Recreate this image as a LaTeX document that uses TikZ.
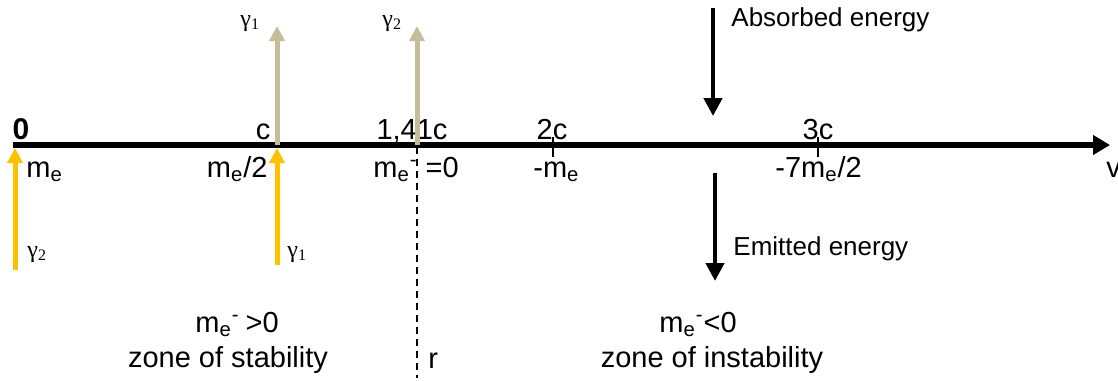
\documentclass[tikz,border=0pt]{standalone}
\usepackage{fontspec}
\setmainfont{Liberation Sans}
\newfontfamily\grk{Liberation Serif}
\usetikzlibrary{arrows.meta}
\definecolor{arena}{HTML}{C4BD97}
\definecolor{ambar}{HTML}{FFC000}

\begin{document}
\begin{tikzpicture}[x=0.5pt, y=-0.5pt, font=\fontsize{14.5}{17}\selectfont,
      lb/.style={inner sep=0pt},
      gm/.style={inner sep=0pt, anchor=base west, font=\fontsize{12}{13}\grk},
      en/.style={inner sep=0pt, anchor=base west, font=\fontsize{13}{15}\selectfont},
      ax/.style={-{Triangle[length=8.5pt, width=9.5pt]}, line width=2.8pt},
      fo/.style={-{Triangle[length=7.5pt, width=7.5pt]}, line width=2.5pt},
      ee/.style={-{Triangle[length=9pt, width=9pt]}, line width=2.2pt},
      tk/.style={line width=0.8pt}]

    \useasboundingbox (0,0) rectangle (1118,380);

    % eje de velocidades
    \coordinate (o) at (13,145);
    \coordinate (vend) at (1110,145);
    \draw[ax] (o) -- (vend);

    \node[lb, anchor=base, font=\fontsize{15}{17}\selectfont\bfseries] (cero) at (21,139) {0};
    \node[lb, anchor=base] (vc) at (263,139) {c};
    \node[lb, anchor=base] (vr) at (412,139) {1,41c};
    \node[lb, anchor=base] (v2c) at (552,139) {2c};
    \node[lb, anchor=base] (v3c) at (818,139) {3c};

    \node[lb, anchor=base west] (m0) at (26,177) {m\textsubscript{e}};
    \node[lb, anchor=base east] (mc) at (268,177) {m\textsubscript{e}/2};
    \node[lb, anchor=base west] (mr) at (373,177) {m\textsubscript{e}\textsuperscript{-}\hspace{4pt}=0};
    \node[lb, anchor=base west] (m2c) at (533,177) {-m\textsubscript{e}};
    \node[lb, anchor=base west] (m3c) at (775,177) {-7m\textsubscript{e}/2};
    \node[lb, anchor=base west] (v) at (1106,177) {v};

    % marcas
    \coordinate (t2a) at (553,137); \coordinate (t2b) at (553,157);
    \coordinate (t3a) at (818,137); \coordinate (t3b) at (818,157);
    \draw[tk] (t2a) -- (t2b);
    \draw[tk] (t3a) -- (t3b);

    % fotones emitidos
    \coordinate (pc) at (277,145); \coordinate (pr) at (417,145);
    \coordinate (g1) at (277,26); \coordinate (g2) at (417,26);
    \draw[fo, arena] (pc) -- (g1);
    \draw[fo, arena] (pr) -- (g2);
    \node[gm] (lg1) at (240,26) {γ\textsubscript{1}};
    \node[gm] (lg2) at (382,26) {γ\textsubscript{2}};

    % fotones absorbidos
    \coordinate (b0) at (15,270); \coordinate (a0) at (15,148);
    \coordinate (bc) at (277,265); \coordinate (ac) at (277,148);
    \draw[fo, ambar] (b0) -- (a0);
    \draw[fo, ambar] (bc) -- (ac);
    \node[gm] (lg2b) at (27,257) {γ\textsubscript{2}};
    \node[gm] (lg1b) at (287,257) {γ\textsubscript{1}};

    % limite r
    \coordinate (rtop) at (417,147); \coordinate (rbot) at (417,378);
    \draw[dashed, line width=0.8pt, dash pattern=on 3.5pt off 2.5pt] (rtop) -- (rbot);
    \node[lb, anchor=base west] (r) at (428,368) {r};

    % energia
    \coordinate (abs1) at (713,8); \coordinate (abs2) at (713,116);
    \coordinate (emi1) at (715,173); \coordinate (emi2) at (715,281);
    \draw[ee] (abs1) -- (abs2);
    \draw[ee] (emi1) -- (emi2);
    \node[en] (labs) at (731,26) {Absorbed energy};
    \node[en] (lemi) at (733,255) {Emitted energy};

    % zonas
    \node[lb, anchor=base west] (ms) at (195,332) {m\textsubscript{e}\textsuperscript{-}\hspace{3pt}>0};
    \node[lb, anchor=base] (zs) at (228,367) {zone of stability};
    \node[lb, anchor=base west] (mi) at (659,332) {m\textsubscript{e}\textsuperscript{-}<0};
    \node[lb, anchor=base] (zi) at (712,367) {zone of instability};
  \end{tikzpicture}
\end{document}
